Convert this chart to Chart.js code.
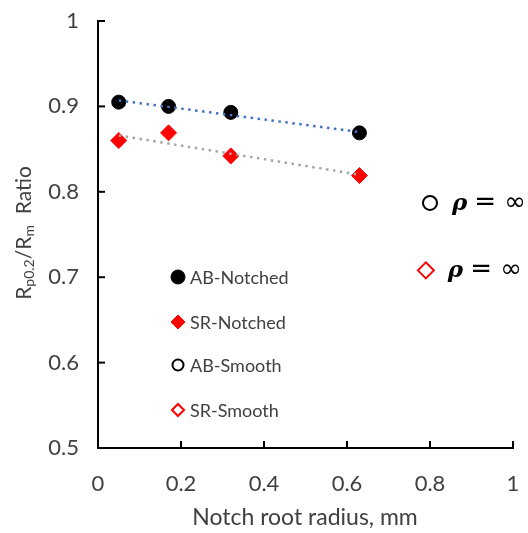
<!DOCTYPE html>
<html>
<head>
<meta charset="utf-8">
<script src="https://cdn.jsdelivr.net/npm/chart.js@4/dist/chart.umd.min.js"></script>
<style>
  html, body { margin: 0; padding: 0; background: #fff; }
  #wrap { width: 528px; height: 533px; position: relative; }
</style>
</head>
<body>
<div id="wrap"><canvas id="ratioChart"></canvas></div>
<script>
// values
const notchRadius = [0.05, 0.17, 0.32, 0.63];
const abNotched = [0.905, 0.900, 0.893, 0.869];
const srNotched = [0.860, 0.869, 0.842, 0.819];

const abSmoothRadius = [0.80];
const abSmooth = [0.787];
const srSmoothRadius = [0.79];
const srSmooth = [0.708];

const trendRadius = [0.05, 0.63];
const abTrend = [0.907, 0.870];
const srTrend = [0.866, 0.820];

const xTicks = [0, 0.2, 0.4, 0.6, 0.8, 1];
const yTicks = [0.5, 0.6, 0.7, 0.8, 0.9, 1];

const legendNames = ["AB-Notched", "SR-Notched", "AB-Smooth", "SR-Smooth"];
const smoothLabel = "= \u221E";

const textColor = "#404040";
const fontFamily = "Lato, 'Open Sans', sans-serif";

function pts(xs, ys) {
    return xs.map((x, i) => ({ x: x, y: ys[i] }));
}

const datasets = [
    {
        label: "AB trend",
        data: pts(trendRadius, abTrend),
        showLine: true,
        borderColor: "#4472C4",
        borderWidth: 2.5,
        borderDash: [2.5, 4.5],
        pointRadius: 0
    },
    {
        label: "SR trend",
        data: pts(trendRadius, srTrend),
        showLine: true,
        borderColor: "#A5A5A5",
        borderWidth: 2.5,
        borderDash: [2.5, 4.5],
        pointRadius: 0
    },
    {
        label: legendNames[0],
        data: pts(notchRadius, abNotched),
        pointStyle: "circle",
        pointRadius: 7,
        backgroundColor: "#000",
        borderColor: "#000",
        borderWidth: 1
    },
    {
        label: legendNames[1],
        data: pts(notchRadius, srNotched),
        pointStyle: "rectRot",
        pointRadius: 8,
        backgroundColor: "#FF0000",
        borderColor: "#FF0000",
        borderWidth: 1
    },
    {
        label: legendNames[2],
        data: pts(abSmoothRadius, abSmooth),
        pointStyle: "circle",
        pointRadius: 7,
        backgroundColor: "#fff",
        borderColor: "#000",
        borderWidth: 2
    },
    {
        label: legendNames[3],
        data: pts(srSmoothRadius, srSmooth),
        pointStyle: "rectRot",
        pointRadius: 8,
        backgroundColor: "#fff",
        borderColor: "#FF0000",
        borderWidth: 2
    }
];

// inside tick marks, legend box, rho labels and axis titles
const extras = {
    id: "extras",
    afterDatasetsDraw(chart) {
        const ctx = chart.ctx;
        const xs = chart.scales.x;
        const ys = chart.scales.y;
        const area = chart.chartArea;

        ctx.save();
        ctx.strokeStyle = "#000";
        ctx.lineWidth = 2;
        xTicks.forEach(v => {
            const px = xs.getPixelForValue(v);
            ctx.beginPath();
            ctx.moveTo(px, area.bottom);
            ctx.lineTo(px, area.bottom - 7);
            ctx.stroke();
        });
        yTicks.forEach(v => {
            const py = ys.getPixelForValue(v);
            ctx.beginPath();
            ctx.moveTo(area.left, py);
            ctx.lineTo(area.left + 7, py);
            ctx.stroke();
        });

        // legend
        const rows = [277, 322, 365, 410];
        const sizes = [7, 7, 5.5, 6];
        ctx.font = "18px " + fontFamily;
        ctx.textBaseline = "middle";
        ctx.textAlign = "left";
        for (let i = 0; i < 4; i++) {
            const ds = chart.data.datasets[i + 2];
            ctx.fillStyle = ds.backgroundColor;
            ctx.strokeStyle = ds.borderColor;
            ctx.lineWidth = ds.borderWidth;
            Chart.helpers.drawPoint(ctx, {
                pointStyle: ds.pointStyle,
                radius: sizes[i],
                borderWidth: ds.borderWidth
            }, 178, rows[i]);
            ctx.fillStyle = textColor;
            ctx.fillText(legendNames[i], 190, rows[i] + 1);
        }

        // rho = infinity labels next to smooth points
        [[abSmoothRadius[0], abSmooth[0]], [srSmoothRadius[0], srSmooth[0]]].forEach(p => {
            const px = xs.getPixelForValue(p[0]) + 22;
            const py = ys.getPixelForValue(p[1]);
            ctx.fillStyle = "#000";
            ctx.font = "bold italic 23px 'DejaVu Serif', serif";
            ctx.fillText("\u03C1", px, py + 1);
            const w = ctx.measureText("\u03C1").width;
            ctx.font = "26px 'DejaVu Sans', sans-serif";
            ctx.fillText(smoothLabel, px + w + 7, py);
        });

        // x title
        ctx.fillStyle = textColor;
        ctx.font = "23px " + fontFamily;
        ctx.textAlign = "center";
        ctx.fillText("Notch root radius, mm", 305, 518);

        // y title with subscripts
        const parts = [
            ["R", 21, 0], ["p0.2", 14, 5], ["/R", 21, 0], ["m", 14, 5], ["  Ratio", 21, 0]
        ];
        let total = 0;
        parts.forEach(p => {
            ctx.font = p[1] + "px " + fontFamily;
            total += ctx.measureText(p[0]).width;
        });
        ctx.translate(24, 233);
        ctx.rotate(-Math.PI / 2);
        ctx.textAlign = "left";
        let cx = -total / 2;
        parts.forEach(p => {
            ctx.font = p[1] + "px " + fontFamily;
            ctx.fillText(p[0], cx, p[2]);
            cx += ctx.measureText(p[0]).width;
        });
        ctx.restore();
    }
};

function fmt(v) {
    return String(Math.round(v * 10) / 10);
}

new Chart(document.getElementById("ratioChart"), {
    type: "scatter",
    data: { datasets: datasets },
    options: {
        responsive: true,
        maintainAspectRatio: false,
        animation: false,
        layout: { padding: { top: 21, right: 15, left: 0, bottom: 0 } },
        plugins: {
            legend: { display: false },
            tooltip: { enabled: false }
        },
        scales: {
            x: {
                type: "linear",
                min: 0,
                max: 1,
                afterBuildTicks: s => { s.ticks = xTicks.map(v => ({ value: v })); },
                afterFit: s => {
                    s.height = 85;
                    s.paddingLeft = 0;
                    s.paddingRight = 0;
                },
                grid: { display: false, drawTicks: false },
                border: { color: "#000", width: 2 },
                ticks: {
                    padding: 23,
                    color: textColor,
                    font: { size: 22, family: fontFamily },
                    callback: fmt
                }
            },
            y: {
                type: "linear",
                min: 0.5,
                max: 1,
                afterBuildTicks: s => { s.ticks = yTicks.map(v => ({ value: v })); },
                afterFit: s => {
                    s.width = 98;
                    s.paddingTop = 0;
                    s.paddingBottom = 0;
                },
                grid: { display: false, drawTicks: false },
                border: { color: "#000", width: 2 },
                ticks: {
                    padding: 19,
                    color: textColor,
                    font: { size: 22, family: fontFamily },
                    callback: fmt
                }
            }
        }
    },
    plugins: [extras]
});
</script>
</body>
</html>
